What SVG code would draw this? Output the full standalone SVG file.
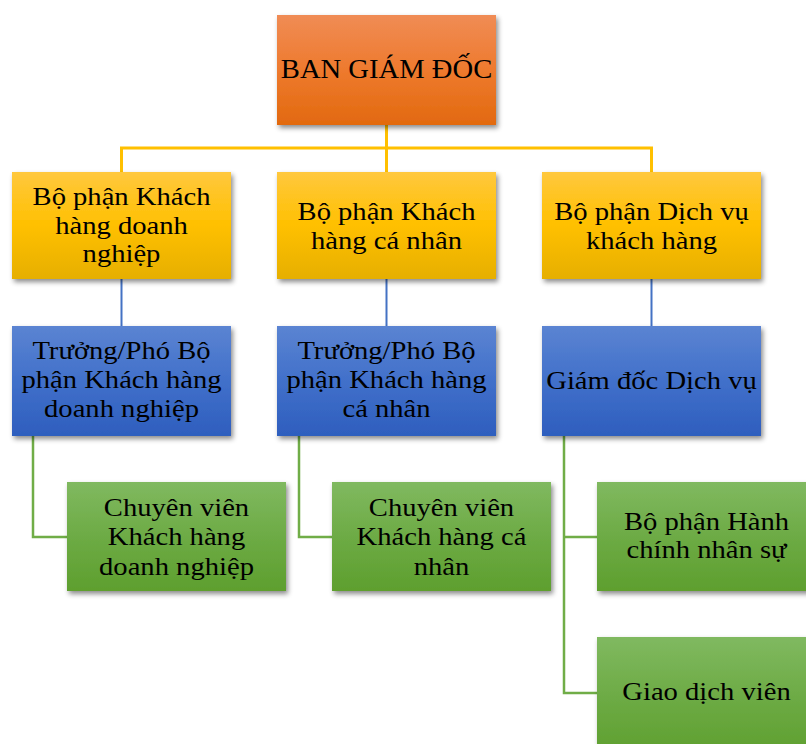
<svg xmlns="http://www.w3.org/2000/svg" width="806" height="744" viewBox="0 0 806 744">
<defs>
<linearGradient id="gO" x1="0" y1="0" x2="0" y2="1"><stop offset="0" stop-color="#F08C55"/><stop offset="0.5" stop-color="#EE7A2E"/><stop offset="1" stop-color="#E2690F"/></linearGradient>
<linearGradient id="gY" x1="0" y1="0" x2="0" y2="1"><stop offset="0" stop-color="#FFC83E"/><stop offset="0.5" stop-color="#FFC000"/><stop offset="1" stop-color="#E6AF00"/></linearGradient>
<linearGradient id="gB" x1="0" y1="0" x2="0" y2="1"><stop offset="0" stop-color="#5B84D2"/><stop offset="0.5" stop-color="#4170CA"/><stop offset="1" stop-color="#2E5EBE"/></linearGradient>
<linearGradient id="gG" x1="0" y1="0" x2="0" y2="1"><stop offset="0" stop-color="#80B960"/><stop offset="0.5" stop-color="#6DAB45"/><stop offset="1" stop-color="#5E9F2E"/></linearGradient>
<filter id="sh" x="-10%" y="-10%" width="125%" height="130%"><feDropShadow dx="2" dy="3" stdDeviation="2.5" flood-color="#000" flood-opacity="0.45"/></filter>
</defs>
<style>
text{font-family:"Liberation Serif","Times New Roman",serif;font-size:26px;fill:#000;text-anchor:middle}
.o{fill:url(#gO);filter:url(#sh)}
.y{fill:url(#gY);filter:url(#sh)}
.b{fill:url(#gB);filter:url(#sh)}
.g{fill:url(#gG);filter:url(#sh)}
.cy{stroke:#FFC000;stroke-width:3;fill:none}
.cb{stroke:#4472C4;stroke-width:2;fill:none}
.cg{stroke:#70AD47;stroke-width:2.5;fill:none}
</style>
<g id="connectors">
<path class="cy" d="M386.5 125V148M121.5 172V148H651.5V172M386.5 148V172"/>
<path class="cb" d="M121.5 279V326M386.5 279V326M651.5 279V326"/>
<path class="cg" d="M33 436V537H67M299 436V537H332M564 436V693H597M564 537H597"/>
</g>
<g id="n-top"><rect class="o" x="277" y="15" width="219" height="110"/><g transform="matrix(1.06 0 0 1 386.5 0)"><text x="0" y="78" style="font-size:27px">BAN GIÁM ĐỐC</text></g></g>
<g id="n-khdn"><rect class="y" x="12" y="172" width="219" height="107"/><g transform="matrix(1.1 0 0 1 121.5 0)"><text x="0" y="205">Bộ phận Khách</text><text x="0" y="234">hàng doanh</text><text x="0" y="262">nghiệp</text></g></g>
<g id="n-khcn"><rect class="y" x="277" y="172" width="219" height="107"/><g transform="matrix(1.1 0 0 1 386.5 0)"><text x="0" y="220">Bộ phận Khách</text><text x="0" y="249">hàng cá nhân</text></g></g>
<g id="n-dvkh"><rect class="y" x="542" y="172" width="219" height="107"/><g transform="matrix(1.1 0 0 1 651.5 0)"><text x="0" y="220">Bộ phận Dịch vụ</text><text x="0" y="249">khách hàng</text></g></g>
<g id="n-tp-dn"><rect class="b" x="12" y="326" width="219" height="110"/><g transform="matrix(1.1 0 0 1 121.5 0)"><text x="0" y="359">Trưởng/Phó Bộ</text><text x="0" y="388">phận Khách hàng</text><text x="0" y="417">doanh nghiệp</text></g></g>
<g id="n-tp-cn"><rect class="b" x="277" y="326" width="219" height="110"/><g transform="matrix(1.1 0 0 1 386.5 0)"><text x="0" y="359">Trưởng/Phó Bộ</text><text x="0" y="388">phận Khách hàng</text><text x="0" y="417">cá nhân</text></g></g>
<g id="n-gddv"><rect class="b" x="542" y="326" width="219" height="110"/><g transform="matrix(1.1 0 0 1 651.5 0)"><text x="0" y="389">Giám đốc Dịch vụ</text></g></g>
<g id="n-cv-dn"><rect class="g" x="67" y="482" width="219" height="109"/><g transform="matrix(1.1 0 0 1 176.5 0)"><text x="0" y="516">Chuyên viên</text><text x="0" y="545">Khách hàng</text><text x="0" y="575">doanh nghiệp</text></g></g>
<g id="n-cv-cn"><rect class="g" x="332" y="482" width="219" height="109"/><g transform="matrix(1.1 0 0 1 441.5 0)"><text x="0" y="516">Chuyên viên</text><text x="0" y="545">Khách hàng cá</text><text x="0" y="575">nhân</text></g></g>
<g id="n-hcns"><rect class="g" x="597" y="482" width="219" height="109"/><g transform="matrix(1.1 0 0 1 706.5 0)"><text x="0" y="530">Bộ phận Hành</text><text x="0" y="558">chính nhân sự</text></g></g>
<g id="n-gdv"><rect class="g" x="597" y="637" width="219" height="120"/><g transform="matrix(1.1 0 0 1 706.5 0)"><text x="0" y="700">Giao dịch viên</text></g></g>
</svg>
